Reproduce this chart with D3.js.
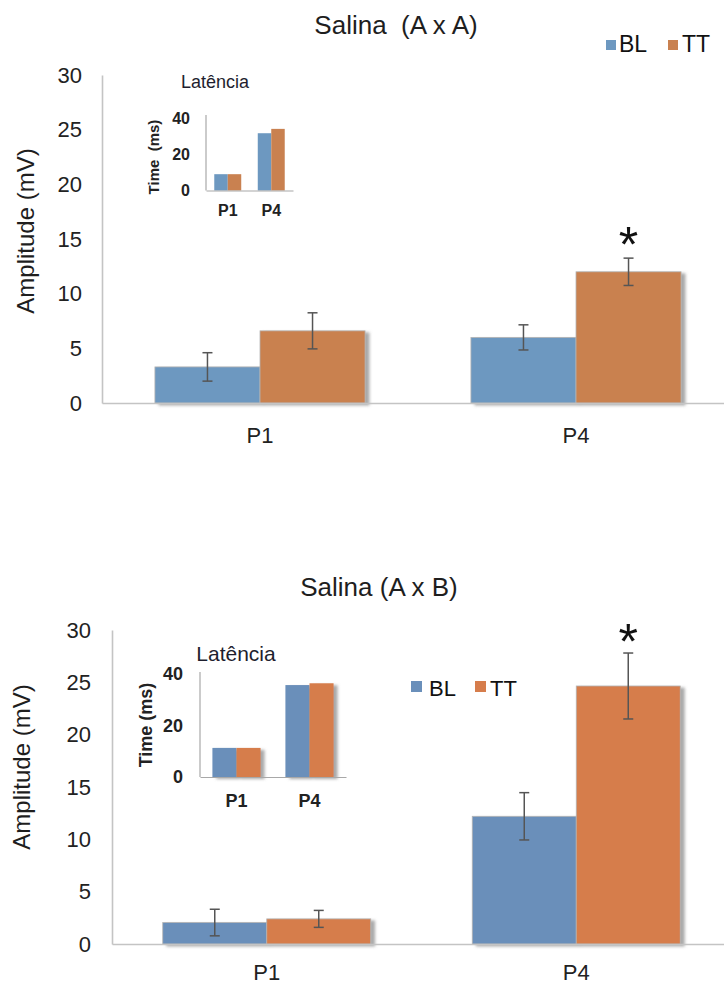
<!DOCTYPE html>
<html>
<head>
<meta charset="utf-8">
<script src="https://cdn.jsdelivr.net/npm/d3@7/dist/d3.min.js"></script>
<style>
  html, body { margin: 0; padding: 0; background: #fff; }
  svg { display: block; font-family: "Liberation Sans", Arial, sans-serif; }
  text { white-space: pre; }
</style>
</head>
<body>
<svg id="chart" width="724" height="987"></svg>
<script>
// Categories and series
const categories = ["P1", "P4"];
const seriesNames = ["BL", "TT"];
const ampTicks = [0, 5, 10, 15, 20, 25, 30];
const latTicks = [0, 20, 40];

// Salina (A x A): amplitude (mV) with error bars
const ampAA_BL = [3.3, 6.0];
const ampAA_TT = [6.6, 12.0];
const errAA_BL = [1.3, 1.15];
const errAA_TT = [1.65, 1.25];
// Salina (A x A): latency (ms)
const latAA_BL = [9, 31.6];
const latAA_TT = [9, 34];

// Salina (A x B): amplitude (mV) with error bars
const ampAB_BL = [2.05, 12.2];
const ampAB_TT = [2.4, 24.65];
const errAB_BL = [1.27, 2.26];
const errAB_TT = [0.81, 3.15];
// Salina (A x B): latency (ms)
const latAB_BL = [11.3, 35.7];
const latAB_TT = [11.3, 36.4];

const svg = d3.select("#chart");
const FONT = '"Liberation Sans", Arial, sans-serif';

// soft drop shadow used by the bars
const defs = svg.append("defs");
const f = defs.append("filter").attr("id", "barShadow")
  .attr("x", "-10%").attr("y", "-10%").attr("width", "130%").attr("height", "130%");
f.append("feDropShadow").attr("dx", 4).attr("dy", 2).attr("stdDeviation", 1.6)
  .attr("flood-color", "#7a7a7a").attr("flood-opacity", 0.65);

function label(g, txt, x, y, opts = {}) {
  const t = g.append("text")
    .attr("x", x).attr("y", y)
    .attr("font-family", FONT)
    .attr("font-size", opts.size || 20)
    .attr("font-weight", opts.weight || "normal")
    .attr("fill", opts.fill || "#1e1e1e")
    .attr("text-anchor", opts.anchor || "middle")
    .attr("dominant-baseline", opts.baseline || "auto")
    .text(txt);
  if (opts.rotate) t.attr("transform", `rotate(${opts.rotate},${x},${y})`);
  return t;
}

function groupedBars(g, cfg) {
  const x0 = d3.scaleBand().domain(categories).range(cfg.xRange).padding(0);
  const groupW = x0.step() * cfg.groupFrac;
  const x1 = d3.scaleBand().domain(seriesNames).range([0, groupW]).padding(0);
  const y = d3.scaleLinear().domain(cfg.yDomain).range(cfg.yRange);
  const rows = [];
  categories.forEach((c, i) => {
    seriesNames.forEach((s, j) => {
      rows.push({
        cat: c, ser: s,
        v: cfg.values[j][i],
        e: cfg.errors ? cfg.errors[j][i] : null
      });
    });
  });
  const off = (x0.step() - groupW) / 2;
  const bars = g.append("g");
  if (cfg.shadow) bars.attr("filter", "url(#barShadow)");
  bars.selectAll("rect").data(rows).join("rect")
    .attr("x", d => x0(d.cat) + off + x1(d.ser))
    .attr("y", d => y(d.v))
    .attr("width", x1.bandwidth())
    .attr("height", d => y(0) - y(d.v))
    .attr("fill", d => cfg.colors[d.ser])
    .attr("stroke", cfg.stroke || "none")
    .attr("stroke-width", cfg.stroke ? 0.8 : 0);
  return { x0, x1, y, rows, off };
}

function drawPanel(p) {
  const g = svg.append("g");

  // title
  label(g, p.title, p.titleX, p.titleY, { size: 26, baseline: "middle" });

  // main bars
  const { x0, x1, y, rows, off } = groupedBars(g, {
    xRange: p.xRange, yDomain: [0, 30], yRange: p.yRange,
    groupFrac: p.groupFrac, values: p.values, errors: p.errors,
    colors: p.colors, shadow: true, stroke: "#b4b4b4"
  });

  // axes
  const yAxis = g.append("g")
    .attr("transform", `translate(${p.xRange[0]},0)`)
    .call(d3.axisLeft(y).tickValues(ampTicks).tickSize(0).tickPadding(p.tickPad));
  yAxis.select(".domain").attr("stroke", "#c4c4c4").attr("stroke-width", 1.6);
  yAxis.selectAll("text").attr("font-family", FONT).attr("font-size", 22).attr("fill", "#222");

  const xAxis = g.append("g")
    .attr("transform", `translate(0,${p.yRange[0]})`)
    .call(d3.axisBottom(x0).tickSize(0).tickPadding(p.xTickPad));
  xAxis.select(".domain").attr("stroke", "#c4c4c4").attr("stroke-width", 1.6);
  xAxis.selectAll("text").attr("font-family", FONT).attr("font-size", 22).attr("fill", "#222");

  // error bars
  const eb = g.append("g").attr("stroke", "#555").attr("stroke-width", 1.5).attr("fill", "none");
  rows.forEach(d => {
    const cx = x0(d.cat) + off + x1(d.ser) + x1.bandwidth() / 2;
    const top = y(d.v + d.e), bot = y(d.v - d.e);
    eb.append("line").attr("x1", cx).attr("x2", cx).attr("y1", top).attr("y2", bot);
    eb.append("line").attr("x1", cx - 5).attr("x2", cx + 5).attr("y1", top).attr("y2", top);
    eb.append("line").attr("x1", cx - 5).attr("x2", cx + 5).attr("y1", bot).attr("y2", bot);
  });

  // significance mark on P4 / TT
  const starX = x0("P4") + off + x1("TT") + x1.bandwidth() / 2;
  label(g, "*", starX, p.starY + 0.575 * 50, { size: 50, fill: "#111" });

  // y axis title
  label(g, "Amplitude (mV)", p.yTitleX, p.yTitleY, { size: 24, rotate: -90, baseline: "middle" });

  // legend
  const lg = g.append("g");
  seriesNames.forEach((s, i) => {
    const L = p.legend[i];
    lg.append("rect").attr("x", L.sx).attr("y", L.sy).attr("width", L.ss).attr("height", L.ss)
      .attr("fill", p.colors[s]);
    label(lg, s, L.tx, L.ty, { size: p.legendSize, anchor: "start", fill: "#111" });
  });

  // inset: latency
  const ins = p.inset;
  const ig = svg.append("g");
  const r = groupedBars(ig, {
    xRange: ins.xRange, yDomain: [0, 40], yRange: ins.yRange,
    groupFrac: ins.groupFrac, values: ins.values, colors: p.colors,
    shadow: ins.shadow
  });
  const iy = ig.append("g")
    .attr("transform", `translate(${ins.xRange[0]},0)`)
    .call(d3.axisLeft(r.y).tickValues(latTicks).tickSize(0).tickPadding(ins.tickPad));
  iy.select(".domain").attr("stroke", "#a8a8a8").attr("stroke-width", 1.2)
    .attr("d", `M0,${ins.axisTop}V${ins.yRange[0]}`);
  iy.selectAll("text").attr("font-family", FONT).attr("font-size", ins.tickSize)
    .attr("font-weight", "bold").attr("fill", "#222");
  const ix = ig.append("g")
    .attr("transform", `translate(0,${ins.yRange[0]})`)
    .call(d3.axisBottom(r.x0).tickSize(0).tickPadding(ins.xTickPad));
  ix.select(".domain").attr("stroke", "#a8a8a8").attr("stroke-width", 1.2);
  ix.selectAll("text").attr("font-family", FONT).attr("font-size", ins.tickSize)
    .attr("font-weight", "bold").attr("fill", "#222");
  label(ig, "Latência", ins.titleX, ins.titleY, { size: ins.titleSize, fill: "#1e1e2e" });
  label(ig, ins.yTitle, ins.yTitleX, ins.yTitleY,
    { size: ins.yTitleSize, weight: "bold", rotate: -90, baseline: "middle", fill: "#222" });
}

drawPanel({
  title: "Salina  (A x A)", titleX: 396, titleY: 27,
  xRange: [102, 734], yRange: [403, 75], groupFrac: 0.665,
  tickPad: 20, xTickPad: 24,
  values: [ampAA_BL, ampAA_TT], errors: [errAA_BL, errAA_TT],
  colors: { BL: "#6d98c0", TT: "#c98150" },
  starY: 233, yTitleX: 28, yTitleY: 231,
  legendSize: 23,
  legend: [
    { sx: 606, sy: 40, ss: 10, tx: 619, ty: 52 },
    { sx: 668, sy: 40, ss: 10, tx: 682, ty: 52 }
  ],
  inset: {
    xRange: [206, 293], yRange: [190.5, 118], axisTop: 115, groupFrac: 0.62,
    values: [latAA_BL, latAA_TT], shadow: false,
    tickPad: 16, xTickPad: 14, tickSize: 16,
    titleX: 215, titleY: 88, titleSize: 18,
    yTitle: "Time  (ms)", yTitleX: 155, yTitleY: 157, yTitleSize: 15
  }
});

drawPanel({
  title: "Salina (A x B)", titleX: 379, titleY: 589,
  xRange: [112, 731], yRange: [944, 630], groupFrac: 0.672,
  tickPad: 21, xTickPad: 20,
  values: [ampAB_BL, ampAB_TT], errors: [errAB_BL, errAB_TT],
  colors: { BL: "#6a8fba", TT: "#d67d4c" },
  starY: 630, yTitleX: 24, yTitleY: 767,
  legendSize: 22,
  legend: [
    { sx: 411, sy: 681, ss: 11, tx: 429, ty: 696 },
    { sx: 475, sy: 681, ss: 11, tx: 490, ty: 696 }
  ],
  inset: {
    xRange: [200, 346], yRange: [777, 674], axisTop: 672, groupFrac: 0.66,
    values: [latAB_BL, latAB_TT], shadow: true,
    tickPad: 17, xTickPad: 17, tickSize: 18,
    titleX: 236, titleY: 661, titleSize: 21,
    yTitle: "Time (ms)", yTitleX: 147, yTitleY: 725, yTitleSize: 18
  }
});
</script>
</body>
</html>
